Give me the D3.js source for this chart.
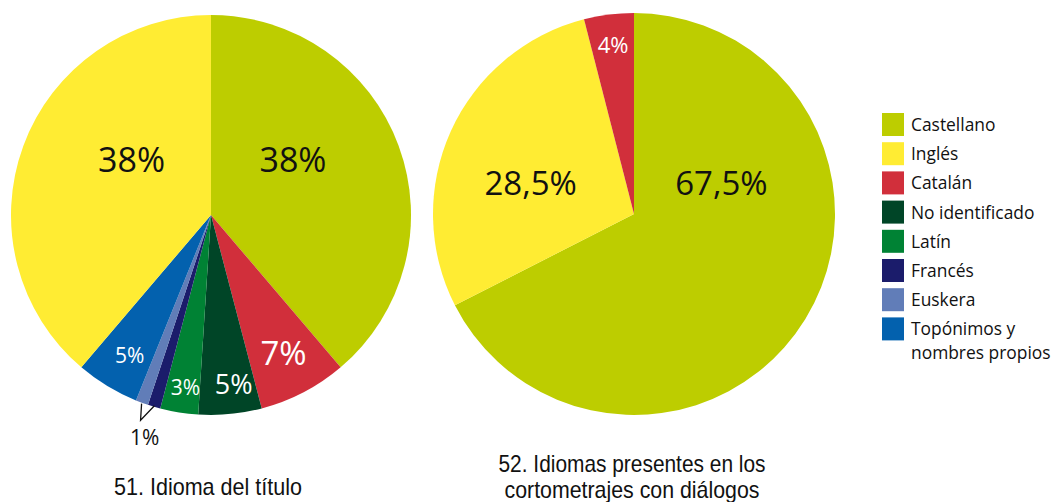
<!DOCTYPE html>
<html>
<head>
<meta charset="utf-8">
<script src="https://cdn.jsdelivr.net/npm/d3@7"></script>
<style>
  body { margin: 0; background: #fff; }
  svg { display: block; }
  .lbl { font-family: "Open Sans", sans-serif; }
  .ttl { font-family: "Liberation Sans", Arial, sans-serif; fill: #111; }
  .leg { font-family: "Open Sans", sans-serif; font-size: 17.4px; fill: #111; }
</style>
</head>
<body>
<svg id="chart" width="1057" height="502"></svg>
<script>
// languages, in the order of the legend
var languages = ['Castellano', 'Inglés', 'Catalán', 'No identificado', 'Latín', 'Francés', 'Euskera', 'Topónimos y nombres propios'];
var colors = ['#bdcd00', '#ffec33', '#d12f3b', '#004527', '#008234', '#1b1c6b', '#617db8', '#0361ae'];

// chart 51: order of the slices, clockwise from the top
var tituloLangs = ['Castellano', 'Catalán', 'No identificado', 'Latín', 'Francés', 'Euskera', 'Topónimos y nombres propios', 'Inglés'];
var tituloValues = [38, 7, 5, 3, 1, 1, 5, 38];
var tituloLabels = ['38%', '7%', '5%', '3%', '', '', '5%', '38%'];

// chart 52
var dialogoLangs = ['Castellano', 'Inglés', 'Catalán'];
var dialogoValues = [67.5, 28.5, 4];
var dialogoLabels = ['67,5%', '28,5%', '4%'];

var titles = [['51. Idioma del título'], ['52. Idiomas presentes en los', 'cortometrajes con diálogos']];

var svg = d3.select('#chart');
var color = d3.scaleOrdinal().domain(languages).range(colors);

// where each label sits: t = position inside the slice, r = share of the radius,
// s = font size, c = text colour
var tituloLabelPos = [
	{t: 0.446, r: 0.463, s: 34, c: '#111'},
	{t: 0.568, r: 0.833, s: 33, c: '#fff'},
	{t: 0.408, r: 0.902, s: 27, c: '#fff'},
	{t: 0.402, r: 0.909, s: 21, c: '#fff'},
	null, null,
	{t: 0.368, r: 0.845, s: 21, c: '#fff'},
	{t: 0.559, r: 0.452, s: 34, c: '#111'}
];
var dialogoLabelPos = [
	{t: 0.32, r: 0.445, s: 33, c: '#111'},
	{t: 0.365, r: 0.523, s: 33, c: '#111'},
	{t: 0.486, r: 0.808, s: 22, c: '#fff'}
];

function polar(angle, r) {
	return [r * Math.sin(angle), -r * Math.cos(angle)];
}

function drawPie(cx, cy, radius, langs, values, labels, pos) {
	var g = svg.append('g').attr('transform', 'translate(' + cx + ',' + cy + ')');
	var pie = d3.pie().sort(null).value(function(d) { return d; });
	var arcs = pie(values);
	var arc = d3.arc().innerRadius(0).outerRadius(radius);

	g.selectAll('path.slice')
		.data(arcs)
		.enter().append('path')
		.attr('class', 'slice')
		.attr('d', arc)
		.attr('fill', function(d, i) { return color(langs[i]); });

	g.selectAll('text.lbl')
		.data(arcs.filter(function(d, i) { return pos[i]; }))
		.enter().append('text')
		.attr('class', 'lbl')
		.attr('text-anchor', 'middle')
		.each(function(d) {
			var i = d.index, p = pos[i];
			var a = d.startAngle + p.t * (d.endAngle - d.startAngle);
			var xy = polar(a, p.r * radius);
			d3.select(this)
				.attr('x', xy[0])
				.attr('y', xy[1])
				.style('font-size', p.s + 'px')
				.style('fill', p.c)
				.text(labels[i]);
		});
	return {g: g, arcs: arcs};
}

var pie1 = drawPie(211, 215, 200, tituloLangs, tituloValues, tituloLabels, tituloLabelPos);
drawPie(634, 214, 201, dialogoLangs, dialogoValues, dialogoLabels, dialogoLabelPos);

// callout for the two 1% slices (Francés, Euskera)
var fr = pie1.arcs[4], eu = pie1.arcs[5];
var mid = function(d) { return (d.startAngle + d.endAngle) / 2; };
var apex = polar((fr.startAngle + eu.endAngle) / 2 + 0.01, 217);
var callout = [polar(mid(eu), 201), apex, polar(mid(fr), 199)];
pie1.g.append('path')
	.attr('d', d3.line()(callout))
	.attr('fill', 'none')
	.attr('stroke', '#111')
	.attr('stroke-width', 1.3);
pie1.g.append('text')
	.attr('class', 'lbl')
	.attr('text-anchor', 'middle')
	.attr('x', apex[0] + 4)
	.attr('y', apex[1] + 25)
	.style('font-size', '21px')
	.style('fill', '#111')
	.text('1%');

// titles under each pie (condensed type, squeezed to the width it has in the original)
var titleX = [208, 632];
var titleY = [495, 472];
var titleW = [[188], [267, 255]];
titles.forEach(function(lines, k) {
	lines.forEach(function(line, j) {
		svg.append('text')
			.attr('class', 'ttl')
			.attr('text-anchor', 'middle')
			.attr('x', titleX[k])
			.attr('y', titleY[k] + j * 26)
			.attr('textLength', titleW[k][j])
			.attr('lengthAdjust', 'spacingAndGlyphs')
			.style('font-size', '24px')
			.text(line);
	});
});

// legend
var legend = svg.append('g').attr('transform', 'translate(882,113)');
var row = legend.selectAll('g')
	.data(languages)
	.enter().append('g')
	.attr('transform', function(d, i) { return 'translate(0,' + (i * 29.2) + ')'; });
row.append('rect')
	.attr('width', 22)
	.attr('height', 23)
	.attr('fill', function(d) { return color(d); });
row.append('text')
	.attr('class', 'leg')
	.attr('x', 29)
	.attr('y', 18)
	.each(function(d) {
		var words = d === 'Topónimos y nombres propios' ? ['Topónimos y', 'nombres propios'] : [d];
		var t = d3.select(this);
		words.forEach(function(w, j) {
			t.append('tspan').attr('x', 29).attr('dy', j ? 24 : 0).text(w);
		});
	});
</script>
</body>
</html>
